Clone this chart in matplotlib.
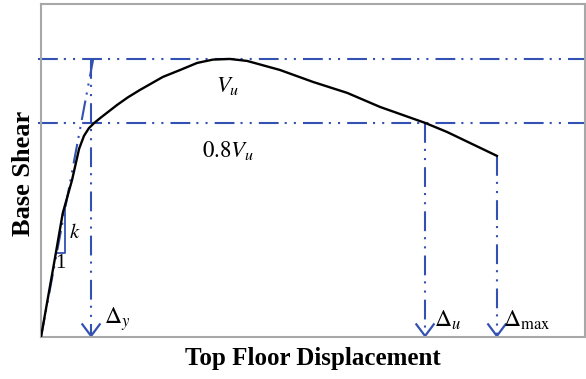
import numpy as np
import matplotlib
matplotlib.use('Agg')
import matplotlib.pyplot as plt

plt.rcParams['font.family'] = ['Liberation Serif', 'DejaVu Serif']
plt.rcParams['mathtext.fontset'] = 'stix'

# pushover curve (displacement, base shear)
disp = [0, 2.6, 4.0, 5.7, 7.0, 7.9, 8.8, 9.8, 11.0, 12.5, 14.0, 16.0, 18.2,
        22.4, 25.6, 28.7, 31.6, 34.7, 37.9, 43.9, 50.0, 56.3, 62.3, 70.6,
        74.6, 83.8]
shear = [0, 24.0, 37.2, 47.1, 56.5, 60.4, 62.7, 64.3, 65.9, 67.8, 69.7, 72.0,
         74.2, 78.1, 80.2, 82.3, 83.3, 83.5, 82.9, 80.2, 76.6, 73.3, 69.1,
         64.3, 61.6, 54.4]

v_u = 83.5          # peak shear
v_08 = 64.3         # 0.8 Vu level
d_y = 9.2
d_u = 70.6
d_max = 83.8
k_top = 9.6         # where the initial stiffness line hits Vu
tri_x = [2.9, 4.5]  # little slope triangle

blue = '#3351b3'
dashdot2 = (0, (9.5, 2.9, 1.0, 3.4, 1.0, 3.4))

fig = plt.figure(figsize=(5.86, 3.79), dpi=100)
ax = fig.add_axes([41 / 586, 1 - 337 / 379, 544 / 586, 333 / 379])
ax.set_xlim(0, 100)
ax.set_ylim(0, 100)
ax.set_xticks([])
ax.set_yticks([])
for s in ax.spines.values():
    s.set_color('#a8a8a8')
    s.set_linewidth(1.5)

# reference lines
ax.plot([-0.5, 100], [v_u, v_u], color=blue, lw=1.5, ls=dashdot2, clip_on=False)
ax.plot([-0.5, 100], [v_08, v_08], color=blue, lw=1.5, ls=dashdot2, clip_on=False)
ax.plot([0, k_top], [0, v_u], color=blue, lw=1.5, ls=dashdot2)

ah_w, ah_h = 1.6, 3.8
for xv, ytop in [(d_y, v_u), (d_u, v_08), (d_max, shear[-1])]:
    ax.plot([xv, xv], [ytop, 0.5], color=blue, lw=1.5, ls=dashdot2)
    ax.plot([xv - ah_w, xv, xv + ah_w], [ah_h, 0.3, ah_h], color=blue, lw=1.6,
            solid_joinstyle='miter')

# slope triangle
slope = v_u / k_top
ty0 = slope * tri_x[0]
ty1 = slope * tri_x[1]
ax.plot([tri_x[0], tri_x[1], tri_x[1]], [ty0, ty0, ty1], color=blue, lw=1.3)

ax.plot(disp, shear, color='black', lw=1.7, zorder=5)

fs = 16.5
ax.text(34.4, 75.5, r'$V_u$', fontsize=fs, ha='center', va='center')
ax.text(34.4, 56.0, r'$0.8V_u$', fontsize=fs, ha='center', va='center')
ax.text(6.2, 31.2, r'$k$', fontsize=15, ha='center', va='center')
ax.text(3.5, 22.0, '1', fontsize=15, ha='center', va='center')
ax.text(11.6, 5.5, r'$\Delta_y$', fontsize=17, ha='left', va='center')
ax.text(72.3, 5.0, r'$\Delta_u$', fontsize=17, ha='left', va='center')
ax.text(85.0, 5.0, r'$\Delta_{\mathrm{max}}$', fontsize=17, ha='left', va='center')

fig.text(313 / 586, 1 - 358 / 379, 'Top Floor Displacement', fontsize=18,
         fontweight='bold', ha='center', va='center')
fig.text(24 / 586, 1 - 173 / 379, 'Base Shear', fontsize=19, fontweight='bold',
         rotation=90, ha='center', va='center')

fig.savefig('out.png', dpi=100)
